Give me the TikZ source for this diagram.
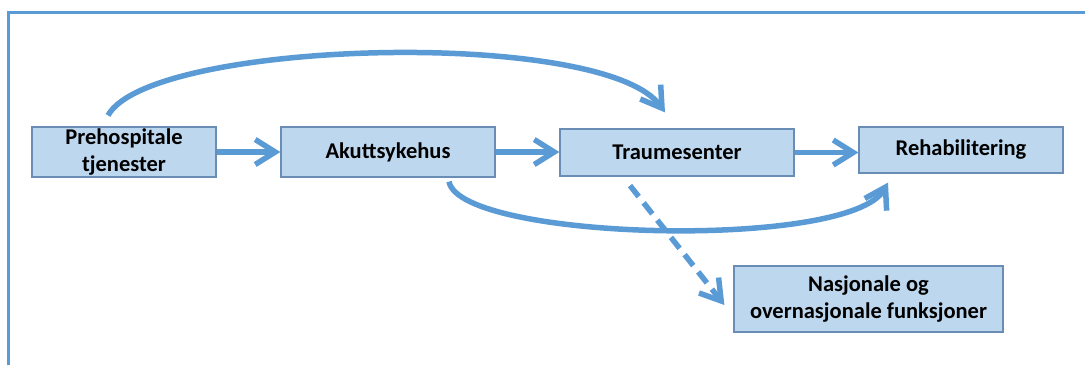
\documentclass[tikz,border=0pt]{standalone}
\usepackage{fontspec}
\setmainfont{Carlito}
\usetikzlibrary{arrows.meta}
\definecolor{flowblue}{HTML}{5B9BD5}
\definecolor{boxfill}{HTML}{BDD7EE}
\definecolor{boxline}{HTML}{6A8DB5}
\tikzset{
  stagebox/.style={draw=boxline, line width=1.2pt, fill=boxfill, align=center,
    inner sep=0pt, font=\fontsize{22.5}{27}\selectfont\bfseries},
  flow/.style={draw=flowblue, line width=5.5pt,
    -{Straight Barb[length=20pt,width=25pt,line width=5.5pt]}},
  frameline/.style={draw=flowblue, line width=3pt}
}
\begin{document}
\begin{tikzpicture}[x=1pt,y=-1pt]
  \useasboundingbox (0,0) rectangle (1085,365);
  % outer frame (top and left edges)
  \coordinate (fbl) at (8,365);
  \coordinate (ftl) at (8,12);
  \coordinate (ftr) at (1085,12);
  \draw[frameline] (fbl) -- (ftl) -- (ftr);

  % stages
  \node[stagebox, minimum width=184pt, minimum height=50pt] (pre) at (124,152) {Prehospitale\\tjenester};
  \node[stagebox, minimum width=214pt, minimum height=50pt] (aku) at (388,152) {Akuttsykehus};
  \node[stagebox, minimum width=234pt, minimum height=47pt] (tra) at (677,152.5) {Traumesenter};
  \node[stagebox, minimum width=204pt, minimum height=46pt] (reh) at (961,150) {Rehabilitering};
  \node[stagebox, minimum width=269pt, minimum height=66pt] (nas) at (868.5,299) {Nasjonale og\\overnasjonale funksjoner};

  % straight flow arrows
  \draw[flow] (pre.east) -- (aku.west);
  \draw[flow] (aku.east) -- (tra.west |- aku.east);
  \draw[flow] (tra.east) -- (reh.west |- tra.east);

  % bypass curves
  \draw[flow] ([xshift=-16pt,yshift=11pt]pre.north)
    .. controls +(42,-76) and +(-60,-85) .. ([xshift=-12pt,yshift=16pt]tra.north);
  \draw[flow] ([xshift=61pt,yshift=-4pt]aku.south)
    .. controls +(11,59) and +(-38,68) .. ([xshift=-73pt,yshift=-9pt]reh.south);

  % dashed branch to national functions
  \draw[flow, dash pattern=on 14pt off 8pt] ([xshift=-47pt,yshift=-9pt]tra.south)
    -- ([xshift=-9pt,yshift=-6pt]nas.west);
\end{tikzpicture}
\end{document}
